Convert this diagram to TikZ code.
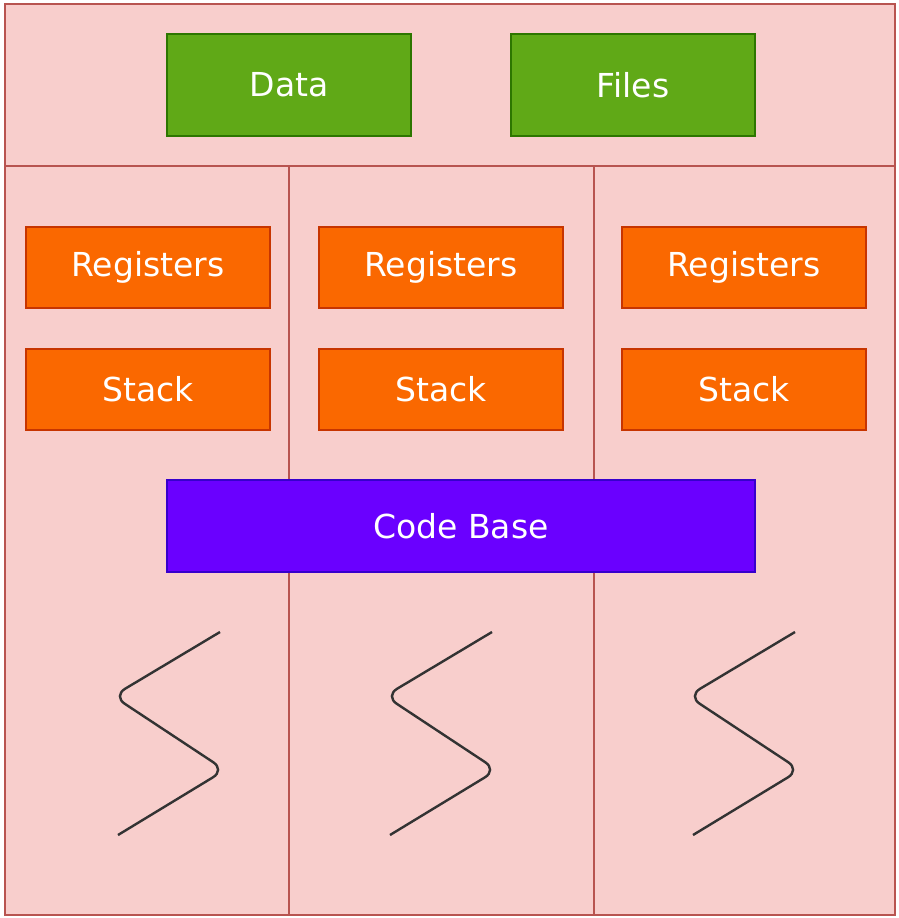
\documentclass[tikz,border=0pt]{standalone}
\usepackage{fontspec}
\setmainfont{DejaVu Sans}
\definecolor{bgfill}{HTML}{F8CECC}
\definecolor{bgline}{HTML}{B85450}
\definecolor{gfill}{HTML}{60A917}
\definecolor{gline}{HTML}{2D7600}
\definecolor{ofill}{HTML}{FA6800}
\definecolor{oline}{HTML}{C73500}
\definecolor{pfill}{HTML}{6A00FF}
\definecolor{pline}{HTML}{3700CC}
\definecolor{squig}{HTML}{333333}
\begin{document}
\begin{tikzpicture}[x=1pt,y=-1pt,
  region/.style={draw=bgline,fill=bgfill,line width=1.6pt},
  box/.style={text=white,font=\fontsize{33}{38}\selectfont,line width=1.2pt,inner sep=0pt},
  greenbox/.style={box,draw=gline,fill=gfill},
  orangebox/.style={box,draw=oline,fill=ofill},
  purplebox/.style={box,draw=pline,fill=pfill},
  wave/.style={draw=squig,line width=2.4pt,rounded corners=14pt}]
\useasboundingbox (0,0) rectangle (898,918);
% regions
\path[region] (5,4) rectangle (895,166);
\path[region] (5,166) rectangle (289,915);
\path[region] (289,166) rectangle (594,915);
\path[region] (594,166) rectangle (895,915);
% top boxes
\node[greenbox,minimum width=244pt,minimum height=102pt] (data) at (289,85) {Data};
\node[greenbox,minimum width=244pt,minimum height=102pt] (files) at (633,85) {Files};
% registers / stack
\foreach \cx/\n in {148/a,441/b,744/c}{
  \node[orangebox,minimum width=244pt,minimum height=81pt] (reg\n) at (\cx,267.5) {Registers};
  \node[orangebox,minimum width=244pt,minimum height=81pt] (stk\n) at (\cx,389.5) {Stack};
}
% code base
\node[purplebox,minimum width=588pt,minimum height=92pt] (code) at (461,526) {Code Base};
% thread squiggles
\draw[wave] (220,632) -- (113,696) -- (225,770) -- (118,835);
\draw[wave] (492,632) -- (385,696) -- (497,770) -- (390,835);
\draw[wave] (795,632) -- (688,696) -- (800,770) -- (693,835);
\end{tikzpicture}
\end{document}
